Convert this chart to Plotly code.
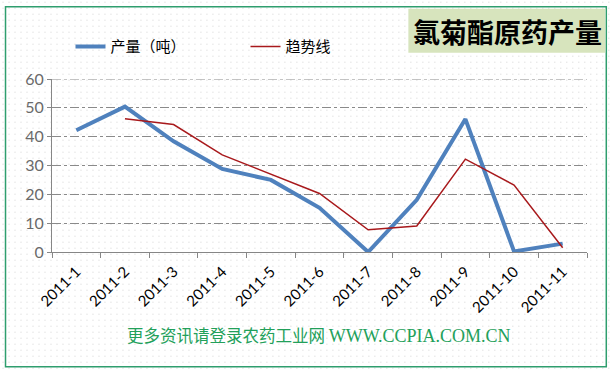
import base64
import plotly.graph_objects as go

categories = ["2011-1", "2011-2", "2011-3", "2011-4", "2011-5", "2011-6",
              "2011-7", "2011-8", "2011-9", "2011-10", "2011-11"]
production = [42.2, 50.4, 38.4, 28.8, 25.0, 15.3, 0.0, 18.1, 46.1, 0.2, 2.9]
trend = [None, 46.2, 44.2, 33.7, 27.0, 20.3, 7.7, 9.0, 32.2, 23.2, 1.5]
y_ticks = [0, 10, 20, 30, 40, 50, 60]

W, H = 612, 372
L, R, T, B = 51.5, 25.3, 79.3, 119.7

# dotted background pattern
svg = (f'<svg xmlns="http://www.w3.org/2000/svg" width="{W}" height="{H}">'
       '<defs><pattern id="p" width="6" height="6" patternUnits="userSpaceOnUse">'
       '<rect x="2" y="2" width="1" height="1" fill="#d4d4d4"/></pattern></defs>'
       f'<rect width="{W}" height="{H}" fill="url(#p)"/></svg>')
src = "data:image/svg+xml;base64," + base64.b64encode(svg.encode()).decode()

fig = go.Figure()
fig.add_trace(go.Scatter(x=categories, y=production, mode="lines", name="产量（吨）",
                         line=dict(color="#4f81bd", width=4)))
fig.add_trace(go.Scatter(x=categories, y=trend, mode="lines", name="趋势线",
                         line=dict(color="#a8191c", width=1.5)))

def px_x(x):
    return (x - L) / (W - L - R)

def px_y(y):
    return (H - B - y) / (H - T - B)

fig.update_layout(
    width=W, height=H,
    margin=dict(l=L, r=R, t=T, b=B, autoexpand=False),
    paper_bgcolor="white", plot_bgcolor="rgba(0,0,0,0)",
    font=dict(family="Lato, Noto Sans CJK SC", size=13, color="#000"),
    showlegend=True,
    legend=dict(orientation="h", x=px_x(70), y=px_y(47), xanchor="left", yanchor="middle",
                bgcolor="rgba(0,0,0,0)", font=dict(family="Noto Sans CJK SC", size=15, color="#000"),
                itemwidth=30, tracegroupgap=0, entrywidth=130),
    xaxis=dict(type="category", showgrid=False, showline=True, linecolor="#868686", linewidth=1,
               ticks="outside", ticklen=5, tickcolor="#868686", tickson="boundaries",
               tickangle=-45, tickfont=dict(family="Lato", size=15, color="#000"),
               ticklabelstandoff=4,
               range=[-0.5, 10.5], fixedrange=True, automargin=False),
    yaxis=dict(range=[0, 60], tickvals=y_ticks, showgrid=True, gridcolor="#8a8a8a",
               griddash="dashdot", gridwidth=1, zeroline=False,
               showline=True, linecolor="#868686", linewidth=1,
               ticks="outside", ticklen=4, tickcolor="#868686", automargin=False,
               tickfont=dict(family="Lato", size=16, color="#6a6a6a")),
    images=[dict(source=src, xref="paper", yref="paper", x=px_x(0), y=px_y(0),
                 sizex=W / (W - L - R), sizey=H / (H - T - B), xanchor="left", yanchor="top",
                 sizing="stretch", layer="below")],
    shapes=[
        dict(type="rect", xref="paper", yref="paper", x0=px_x(5), x1=px_x(606), y0=px_y(7), y1=px_y(367),
             line=dict(color="#2f9e6e", width=1.5), fillcolor="rgba(0,0,0,0)", layer="below"),
        dict(type="rect", xref="paper", yref="paper", x0=px_x(408), x1=px_x(605), y0=px_y(9), y1=px_y(53),
             line=dict(width=0), fillcolor="#d7e4bd", layer="below"),
        dict(type="line", xref="paper", yref="y", x0=0, x1=1, y0=y_ticks[-1], y1=y_ticks[-1],
             line=dict(color="#8a8a8a", width=1, dash="dashdot"), layer="above"),
    ],
    annotations=[
        dict(text="<b>氯菊酯原药产量</b>", xref="paper", yref="paper", x=px_x(507), y=px_y(32),
             xanchor="center", yanchor="middle", showarrow=False,
             font=dict(family="Noto Sans CJK SC", size=27, color="#000", weight=900)),
        dict(text="更多资讯请登录农药工业网 <span style='font-family:Liberation Serif;font-size:18px'>WWW.CCPIA.COM.CN</span>",
             xref="paper", yref="paper", x=px_x(319), y=px_y(335),
             xanchor="center", yanchor="middle", showarrow=False,
             font=dict(family="Noto Sans CJK SC", size=16.5, color="#22a05a")),
    ],
)

fig.write_html("out.html", config={"displayModeBar": False},
               post_script="document.body.style.margin='0';")
